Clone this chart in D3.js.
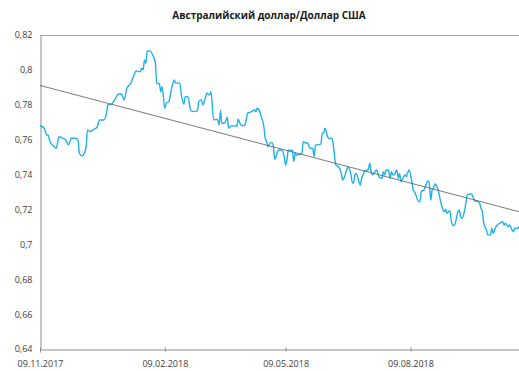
<!DOCTYPE html>
<html>
<head>
<meta charset="utf-8">
<script src="https://cdn.jsdelivr.net/npm/d3@7"></script>
<style>
  html, body { margin: 0; padding: 0; background: #ffffff; }
  svg { display: block; font-family: "Open Sans", "Liberation Sans", sans-serif; }
</style>
</head>
<body>
<svg id="chart" width="519" height="371"></svg>
<script>
// AUD/USD daily rate, 09.11.2017 – 28.10.2018
const dates = [
  "2017-11-09","2017-11-12","2017-11-14","2017-11-15","2017-11-16","2017-11-17","2017-11-19","2017-11-21","2017-11-23","2017-11-26",
  "2017-11-28","2017-11-30","2017-12-02","2017-12-05","2017-12-07","2017-12-08","2017-12-10","2017-12-11","2017-12-13","2017-12-14",
  "2017-12-16","2017-12-18","2017-12-21","2017-12-23","2017-12-26","2017-12-28","2017-12-29","2018-01-01","2018-01-03","2018-01-06",
  "2018-01-08","2018-01-10","2018-01-12","2018-01-14","2018-01-15","2018-01-17","2018-01-19","2018-01-20","2018-01-22","2018-01-23",
  "2018-01-24","2018-01-25","2018-01-26","2018-01-27","2018-01-29","2018-01-31","2018-02-02","2018-02-03","2018-02-05","2018-02-06",
  "2018-02-07","2018-02-09","2018-02-10","2018-02-12","2018-02-13","2018-02-15","2018-02-16","2018-02-17","2018-02-20","2018-02-21",
  "2018-02-23","2018-02-24","2018-02-26","2018-02-28","2018-03-02","2018-03-05","2018-03-06","2018-03-08","2018-03-09","2018-03-11",
  "2018-03-12","2018-03-14","2018-03-15","2018-03-17","2018-03-19","2018-03-20","2018-03-21","2018-03-22","2018-03-23","2018-03-25",
  "2018-03-27","2018-03-28","2018-03-30","2018-04-02","2018-04-03","2018-04-04","2018-04-06","2018-04-08","2018-04-09","2018-04-11",
  "2018-04-12","2018-04-14","2018-04-16","2018-04-17","2018-04-18","2018-04-20","2018-04-21","2018-04-23","2018-04-24","2018-04-25",
  "2018-04-26","2018-04-28","2018-04-29","2018-04-30","2018-05-01","2018-05-03","2018-05-04","2018-05-06","2018-05-08","2018-05-09",
  "2018-05-10","2018-05-11","2018-05-13","2018-05-14","2018-05-15","2018-05-16","2018-05-17","2018-05-20","2018-05-21","2018-05-22",
  "2018-05-24","2018-05-25","2018-05-27","2018-05-29","2018-05-30","2018-05-31","2018-06-02","2018-06-04","2018-06-05","2018-06-06",
  "2018-06-07","2018-06-09","2018-06-10","2018-06-12","2018-06-13","2018-06-14","2018-06-15","2018-06-17","2018-06-19","2018-06-20",
  "2018-06-21","2018-06-23","2018-06-24","2018-06-26","2018-06-27","2018-06-28","2018-06-29","2018-06-30","2018-07-01","2018-07-03",
  "2018-07-04","2018-07-05","2018-07-06","2018-07-08","2018-07-09","2018-07-10","2018-07-11","2018-07-12","2018-07-14","2018-07-15",
  "2018-07-16","2018-07-17","2018-07-19","2018-07-20","2018-07-21","2018-07-22","2018-07-24","2018-07-25","2018-07-26","2018-07-27",
  "2018-07-28","2018-07-30","2018-07-31","2018-08-01","2018-08-02","2018-08-04","2018-08-05","2018-08-06","2018-08-07","2018-08-08",
  "2018-08-10","2018-08-11","2018-08-12","2018-08-13","2018-08-15","2018-08-16","2018-08-17","2018-08-19","2018-08-20","2018-08-22",
  "2018-08-23","2018-08-24","2018-08-25","2018-08-26","2018-08-27","2018-08-29","2018-08-30","2018-08-31","2018-09-02","2018-09-03",
  "2018-09-04","2018-09-05","2018-09-07","2018-09-08","2018-09-09","2018-09-10","2018-09-11","2018-09-13","2018-09-14","2018-09-15",
  "2018-09-16","2018-09-18","2018-09-19","2018-09-20","2018-09-23","2018-09-24","2018-09-25","2018-09-26","2018-09-27","2018-09-29",
  "2018-09-30","2018-10-01","2018-10-02","2018-10-04","2018-10-05","2018-10-07","2018-10-08","2018-10-09","2018-10-11","2018-10-12",
  "2018-10-14","2018-10-16","2018-10-17","2018-10-18","2018-10-20","2018-10-21","2018-10-23","2018-10-24","2018-10-25","2018-10-27",
  "2018-10-28"
];

const rates = [
  0.7680,0.7666,0.7627,0.7627,0.7598,0.7580,0.7564,0.7551,0.7617,0.7608,
  0.7598,0.7570,0.7608,0.7608,0.7598,0.7522,0.7507,0.7512,0.7560,0.7656,
  0.7646,0.7656,0.7671,0.7713,0.7713,0.7751,0.7799,0.7805,0.7828,0.7862,
  0.7862,0.7828,0.7895,0.7914,0.7925,0.7965,0.7996,0.7990,0.7990,0.8010,
  0.8000,0.8057,0.8038,0.8109,0.8109,0.8086,0.8042,0.7924,0.7920,0.7875,
  0.7904,0.7780,0.7809,0.7818,0.7856,0.7924,0.7942,0.7924,0.7924,0.7866,
  0.7803,0.7847,0.7847,0.7770,0.7761,0.7765,0.7818,0.7828,0.7799,0.7843,
  0.7866,0.7856,0.7875,0.7713,0.7717,0.7713,0.7684,0.7766,0.7694,0.7694,
  0.7729,0.7666,0.7679,0.7679,0.7675,0.7717,0.7684,0.7679,0.7684,0.7751,
  0.7755,0.7761,0.7770,0.7761,0.7780,0.7761,0.7732,0.7675,0.7608,0.7589,
  0.7560,0.7583,0.7583,0.7560,0.7488,0.7531,0.7541,0.7541,0.7503,0.7455,
  0.7484,0.7541,0.7537,0.7541,0.7474,0.7522,0.7512,0.7518,0.7522,0.7589,
  0.7580,0.7583,0.7551,0.7551,0.7503,0.7570,0.7570,0.7575,0.7637,0.7637,
  0.7666,0.7616,0.7607,0.7608,0.7580,0.7512,0.7455,0.7445,0.7407,0.7369,
  0.7379,0.7426,0.7442,0.7407,0.7359,0.7350,0.7398,0.7407,0.7388,0.7340,
  0.7379,0.7398,0.7417,0.7426,0.7430,0.7465,0.7417,0.7398,0.7417,0.7426,
  0.7407,0.7385,0.7379,0.7417,0.7398,0.7426,0.7422,0.7379,0.7417,0.7398,
  0.7398,0.7426,0.7379,0.7407,0.7359,0.7388,0.7398,0.7388,0.7411,0.7426,
  0.7359,0.7312,0.7302,0.7283,0.7245,0.7245,0.7302,0.7312,0.7331,0.7365,
  0.7340,0.7254,0.7312,0.7321,0.7346,0.7321,0.7293,0.7254,0.7197,0.7187,
  0.7201,0.7178,0.7193,0.7140,0.7111,0.7107,0.7121,0.7187,0.7197,0.7159,
  0.7149,0.7197,0.7245,0.7283,0.7289,0.7273,0.7254,0.7245,0.7249,0.7235,
  0.7207,0.7187,0.7121,0.7082,0.7054,0.7054,0.7092,0.7063,0.7101,0.7111,
  0.7121,0.7130,0.7111,0.7121,0.7101,0.7111,0.7082,0.7073,0.7092,0.7092,
  0.7101
];

// Linear trend: value at the first and last date of the period
const trendDates = ["2017-11-09", "2018-10-28"];
const trendValues = [0.7911, 0.7187];

const yTicks = [0.64, 0.66, 0.68, 0.70, 0.72, 0.74, 0.76, 0.78, 0.80, 0.82];
const xTicks = ["2017-11-09", "2018-02-09", "2018-05-09", "2018-08-09"];
const title = "Австралийский доллар/Доллар США";

const parse = d3.utcParse("%Y-%m-%d");
const series = dates.map((d, i) => ({ date: parse(d), value: rates[i] }));
const trend = trendDates.map((d, i) => ({ date: parse(d), value: trendValues[i] }));

const svg = d3.select("#chart");
const margin = { left: 40, right: 0, top: 35, bottom: 22 };
const W = 519, H = 371;

const x = d3.scaleUtc()
  .domain([parse("2017-11-09"), parse("2018-10-28")])
  .range([margin.left, W - margin.right]);

const y = d3.scaleLinear()
  .domain([0.64, 0.82])
  .range([H - margin.bottom, margin.top]);

const axisColor = "#8c8c8c";
const textColor = "#404040";

// Title
svg.append("text")
  .attr("x", 269).attr("y", 19)
  .attr("text-anchor", "middle")
  .attr("font-size", 10).attr("font-weight", "bold")
  .attr("fill", "#1a1a1a")
  .text(title);

// Top boundary at the axis maximum
svg.append("line")
  .attr("x1", x.range()[0]).attr("x2", x.range()[1])
  .attr("y1", y(0.82) + 0.5).attr("y2", y(0.82) + 0.5)
  .attr("stroke", "#a6a6a6").attr("stroke-width", 1);

// Y axis
const fmt = v => String(+v.toFixed(2)).replace(".", ",");
const yAxis = d3.axisLeft(y).tickValues(yTicks).tickFormat(fmt).tickSize(0).tickPadding(8);
const gy = svg.append("g")
  .attr("transform", `translate(${margin.left + 0.5},0)`)
  .call(yAxis);
gy.select(".domain").attr("stroke", axisColor);
gy.selectAll("text").attr("font-size", 9).attr("fill", textColor)
  .attr("font-family", "'Open Sans', sans-serif");

// X axis
const xAxis = d3.axisBottom(x)
  .tickValues(xTicks.map(parse))
  .tickFormat(d3.utcFormat("%d.%m.%Y"))
  .tickSize(3).tickPadding(8);
const gx = svg.append("g")
  .attr("transform", `translate(0,${y(0.64) + 0.5})`)
  .call(xAxis);
gx.select(".domain").attr("stroke", axisColor);
gx.selectAll(".tick line").attr("stroke", axisColor).attr("y1", -2).attr("y2", 2);
gx.selectAll("text").attr("font-size", 9).attr("fill", textColor)
  .attr("font-family", "'Open Sans', sans-serif");

// Rate line
const line = d3.line()
  .x(d => x(d.date))
  .y(d => y(d.value))
  .curve(d3.curveMonotoneX);

svg.append("path")
  .datum(series)
  .attr("fill", "none")
  .attr("stroke", "#1fb0ee")
  .attr("stroke-width", 1.4)
  .attr("stroke-linejoin", "round")
  .attr("d", line);

// Trend line
svg.append("path")
  .datum(trend)
  .attr("fill", "none")
  .attr("stroke", "#595959")
  .attr("stroke-width", 0.8)
  .attr("d", d3.line().x(d => x(d.date)).y(d => y(d.value)));
</script>
</body>
</html>
